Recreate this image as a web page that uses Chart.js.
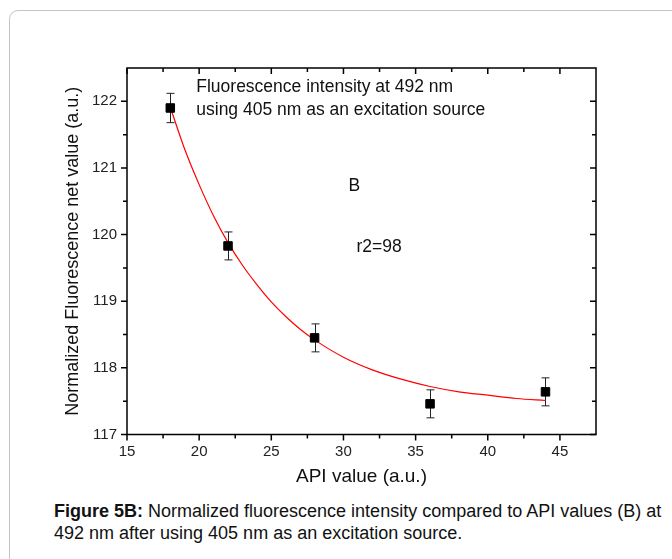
<!DOCTYPE html>
<html>
<head>
<meta charset="utf-8">
<script src="https://cdn.jsdelivr.net/npm/chart.js@4.4.1/dist/chart.umd.min.js"></script>
<style>
  html, body { margin: 0; padding: 0; background: #fff; }
  body { width: 672px; height: 559px; overflow: hidden; position: relative; font-family: 'Liberation Sans', Arial, sans-serif; }
  .card { position: absolute; left: 9px; top: 10px; width: 720px; height: 600px; border: 1px solid #c4c4c4; border-radius: 9px; box-sizing: border-box; }
  #wrap { position: absolute; left: 0; top: 0; width: 672px; height: 500px; }
  .caption { position: absolute; left: 54px; top: 500px; font-size: 18px; line-height: 22px; color: #111; white-space: nowrap; }
</style>
</head>
<body>
<div class="card"></div>
<div id="wrap"><canvas id="chart-fluo"></canvas></div>
<div class="caption"><b>Figure 5B:</b> Normalized fluorescence intensity compared to API values (B) at<br>492 nm after using 405 nm as an excitation source.</div>
<script>
// measured points
var apiValues = [18, 22, 28, 36, 44];
var fluorescence = [121.9, 119.83, 118.45, 117.46, 117.64];
var errors = [0.22, 0.21, 0.21, 0.21, 0.21];

// fitted decay curve
var fitX = [18, 19, 20, 21, 22, 23, 24, 25, 26, 27, 28, 30, 32, 34, 36, 38, 40, 42, 44];
var fitY = [121.91, 121.28, 120.75, 120.28, 119.88, 119.54, 119.25, 118.99, 118.77, 118.58, 118.42, 118.16, 117.97, 117.83, 117.72, 117.64, 117.59, 117.54, 117.51];

// axis ticks
var xMajor = [15, 20, 25, 30, 35, 40, 45];
var xMinor = [17.5, 22.5, 27.5, 32.5, 37.5, 42.5];
var yMajor = [117, 118, 119, 120, 121, 122];
var yMinor = [117.5, 118.5, 119.5, 120.5, 121.5];

var FONT = "'Liberation Sans', Arial, sans-serif";

document.addEventListener('DOMContentLoaded', function() {
    var canvas = document.getElementById('chart-fluo');

    var decor = {
        id: 'decor',
        beforeDatasetsDraw: function(chart) {
            var ctx = chart.ctx, xs = chart.scales.x, ys = chart.scales.y;
            ctx.save();
            ctx.strokeStyle = '#222';
            ctx.lineWidth = 1;
            apiValues.forEach(function(v, i) {
                var px = Math.round(xs.getPixelForValue(v)) + 0.5;
                var top = ys.getPixelForValue(fluorescence[i] + errors[i]);
                var bot = ys.getPixelForValue(fluorescence[i] - errors[i]);
                ctx.beginPath();
                ctx.moveTo(px, top); ctx.lineTo(px, bot);
                ctx.moveTo(px - 4, top); ctx.lineTo(px + 4, top);
                ctx.moveTo(px - 4, bot); ctx.lineTo(px + 4, bot);
                ctx.stroke();
            });
            ctx.restore();
        },
        afterDraw: function(chart) {
            var ctx = chart.ctx, a = chart.chartArea;
            var xs = chart.scales.x, ys = chart.scales.y;
            ctx.save();
            ctx.strokeStyle = '#000';
            ctx.lineWidth = 1.5;
            ctx.strokeRect(a.left, a.top, a.right - a.left, a.bottom - a.top);

            function tickX(v, len) {
                var px = xs.getPixelForValue(v);
                ctx.beginPath();
                ctx.moveTo(px, a.bottom); ctx.lineTo(px, a.bottom + len);
                ctx.moveTo(px, a.top); ctx.lineTo(px, a.top + len);
                ctx.stroke();
            }
            function tickY(v, len) {
                var py = ys.getPixelForValue(v);
                ctx.beginPath();
                ctx.moveTo(a.left, py); ctx.lineTo(a.left - len, py);
                ctx.moveTo(a.right, py); ctx.lineTo(a.right - len, py);
                ctx.stroke();
            }
            xMajor.forEach(function(v) { tickX(v, 6); });
            xMinor.forEach(function(v) { tickX(v, 4); });
            yMajor.forEach(function(v) { tickY(v, 6); });
            yMinor.forEach(function(v) { tickY(v, 4); });

            ctx.fillStyle = '#111';
            ctx.font = '17.5px ' + FONT;
            ctx.textBaseline = 'middle';
            ctx.textAlign = 'left';
            ctx.fillText('Fluorescence intensity at 492 nm', xs.getPixelForValue(19.8), ys.getPixelForValue(122.21));
            ctx.fillText('using 405 nm as an excitation source', xs.getPixelForValue(19.8), ys.getPixelForValue(121.87));
            ctx.textAlign = 'center';
            ctx.fillText('B', xs.getPixelForValue(30.75), ys.getPixelForValue(120.73));
            ctx.textAlign = 'left';
            ctx.fillText('r2=98', xs.getPixelForValue(30.9), ys.getPixelForValue(119.81));
            ctx.restore();
        }
    };

    new Chart(canvas, {
        type: 'scatter',
        data: {
            datasets: [{
                data: apiValues.map(function(x, i) { return { x: x, y: fluorescence[i] }; }),
                backgroundColor: '#000',
                borderColor: '#000',
                pointStyle: 'rect',
                pointRadius: 6,
                pointHoverRadius: 6,
                order: 0
            }, {
                type: 'line',
                data: fitX.map(function(x, i) { return { x: x, y: fitY[i] }; }),
                borderColor: '#ff0000',
                borderWidth: 1.2,
                pointRadius: 0,
                fill: false,
                cubicInterpolationMode: 'monotone',
                order: 1
            }]
        },
        options: {
            responsive: true,
            maintainAspectRatio: false,
            animation: false,
            layout: { padding: { top: 68, right: 76, left: 0, bottom: 0 } },
            plugins: { legend: { display: false }, tooltip: { enabled: false } },
            scales: {
                x: {
                    type: 'linear',
                    min: 15, max: 47.5,
                    afterFit: function(s) { s.height = 65.5; },
                    ticks: { stepSize: 5, includeBounds: false, padding: 8, color: '#222', font: { family: FONT, size: 15 } },
                    grid: { display: false, drawTicks: false },
                    border: { display: false },
                    title: { display: true, text: 'API value (a.u.)', color: '#111', font: { family: FONT, size: 19 }, padding: { top: 0, bottom: 12 } }
                },
                y: {
                    type: 'linear',
                    min: 117, max: 122.5,
                    afterFit: function(s) { s.width = 127; },
                    ticks: { stepSize: 1, includeBounds: false, padding: 10, color: '#222', font: { family: FONT, size: 15 } },
                    grid: { display: false, drawTicks: false },
                    border: { display: false },
                    title: { display: true, text: 'Normalized Fluorescence net value (a.u.)', color: '#111', font: { family: FONT, size: 18 }, padding: { top: 62, bottom: 0 } }
                }
            }
        },
        plugins: [decor]
    });
});
</script>
</body>
</html>
